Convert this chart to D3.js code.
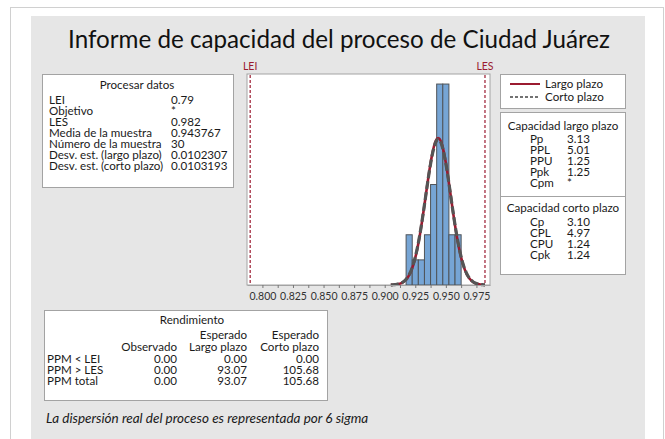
<!DOCTYPE html>
<html>
<head>
<meta charset="utf-8">
<script src="https://cdn.jsdelivr.net/npm/d3@7"></script>
<style>
  body { margin: 0; background: #fff; }
  svg { display: block; font-family: Lato, "Open Sans", sans-serif; }
</style>
</head>
<body>
<div class="chart"></div>
<script>
const width = 665, height = 439;

// histogram data
const binCenters = [0.920, 0.925, 0.930, 0.935, 0.940, 0.945, 0.950, 0.955, 0.960];
const binCounts = [2, 1, 1, 2, 4, 8, 8, 2, 2];
const binWidth = 0.005;
const lei = 0.79, les = 0.982;
const mean = 0.943767, n = 30;
const sdLong = 0.0102307, sdShort = 0.0103193;
const axisTicks = [0.800, 0.8125, 0.825, 0.8375, 0.850, 0.8625, 0.875, 0.8875, 0.900, 0.9125, 0.925, 0.9375, 0.950, 0.9625, 0.975];

// tables
const procLabels = ["LEI", "Objetivo", "LES", "Media de la muestra", "Número de la muestra", "Desv. est. (largo plazo)", "Desv. est. (corto plazo)"];
const procValues = ["0.79", "*", "0.982", "0.943767", "30", "0.0102307", "0.0103193"];
const longLabels = ["Pp", "PPL", "PPU", "Ppk", "Cpm"];
const longValues = ["3.13", "5.01", "1.25", "1.25", "*"];
const shortLabels = ["Cp", "CPL", "CPU", "Cpk"];
const shortValues = ["3.10", "4.97", "1.24", "1.24"];
const rendRows = ["PPM < LEI", "PPM > LES", "PPM total"];
const rendObs = ["0.00", "0.00", "0.00"];
const rendLong = ["0.00", "93.07", "93.07"];
const rendShort = ["0.00", "105.68", "105.68"];

const red = "#9b1b30", boxStroke = "#a3a3a3", txt = "#1a1a1a";
const fs = 11.6;

const svg = d3.select(".chart").append("svg")
  .attr("width", width).attr("height", height);

svg.append("rect").attr("x", 10.5).attr("y", 7.5).attr("width", 653).attr("height", 440)
  .attr("fill", "#fff").attr("stroke", "#d0d0d0");
svg.append("rect").attr("x", 31).attr("y", 16).attr("width", 614).attr("height", 430)
  .attr("fill", "#e6e6e6");

svg.append("text").attr("x", 339).attr("y", 48).attr("text-anchor", "middle")
  .attr("font-size", 24.2).attr("fill", "#111")
  .text("Informe de capacidad del proceso de Ciudad Juárez");

// ---- histogram ----
const x = d3.scaleLinear().domain([0.7874, 0.9861]).range([247, 490]);
const y = d3.scaleLinear().domain([0, 8.4]).range([285, 74]);

svg.append("rect").attr("x", 247).attr("y", 74).attr("width", 243).attr("height", 211)
  .attr("fill", "#fff").attr("stroke", boxStroke);

svg.selectAll(".bar").data(binCenters).enter().append("rect")
  .attr("class", "bar")
  .attr("x", d => x(d - binWidth / 2))
  .attr("width", d => x(d + binWidth / 2) - x(d - binWidth / 2))
  .attr("y", (d, i) => y(binCounts[i]))
  .attr("height", (d, i) => y(0) - y(binCounts[i]))
  .attr("fill", "#76a5d5").attr("stroke", "#4f5459").attr("stroke-width", 1);

const pdf = (v, s) => n * binWidth * Math.exp(-0.5 * ((v - mean) / s) ** 2) / (s * Math.sqrt(2 * Math.PI));
const xs = d3.range(0.905, 0.9821, 0.0005);
const line = s => d3.line().x(d => x(d)).y(d => y(pdf(d, s))).curve(d3.curveBasis)(xs);

svg.append("path").attr("d", line(sdLong)).attr("fill", "none")
  .attr("stroke", red).attr("stroke-width", 2.6);
svg.append("path").attr("d", line(sdShort)).attr("fill", "none")
  .attr("stroke", "#555").attr("stroke-width", 3.2).attr("stroke-dasharray", "8,3");

[[lei, "LEI"], [les, "LES"]].forEach(([v, t]) => {
  svg.append("line").attr("x1", x(v)).attr("x2", x(v)).attr("y1", 75).attr("y2", 284)
    .attr("stroke", red).attr("stroke-width", 1.2).attr("stroke-dasharray", "3,2");
  svg.append("text").attr("x", x(v)).attr("y", 70).attr("text-anchor", "middle")
    .attr("font-size", 10.5).attr("fill", red).text(t);
});

const axis = svg.append("g").attr("transform", "translate(0,285)")
  .call(d3.axisBottom(x).tickValues(axisTicks).tickSize(3).tickSizeOuter(0)
    .tickFormat(d => Math.round(d * 1000) % 25 === 0 ? d3.format(".3f")(d) : ""));
axis.select(".domain").attr("stroke", boxStroke);
axis.selectAll(".tick line").attr("stroke", "#777");
axis.selectAll(".tick text").attr("font-size", 10.5).attr("fill", "#333")
  .attr("font-family", "Lato, sans-serif").attr("dy", "0.9em");

// ---- helper for boxes ----
function box(x0, y0, w, h) {
  svg.append("rect").attr("x", x0 + 0.5).attr("y", y0 + 0.5).attr("width", w).attr("height", h)
    .attr("fill", "#fff").attr("stroke", boxStroke);
}
function txtAt(xp, yp, t, anchor = "start") {
  svg.append("text").attr("x", xp).attr("y", yp).attr("text-anchor", anchor)
    .attr("font-size", fs).attr("fill", txt).text(t);
}

// Procesar datos
box(42, 74, 191, 113);
txtAt(137, 89, "Procesar datos", "middle");
procLabels.forEach((l, i) => {
  txtAt(49, 104 + i * 11, l);
  txtAt(171, 104 + i * 11, procValues[i]);
});

// legend
box(500, 74, 125, 34);
svg.append("line").attr("x1", 510).attr("x2", 540).attr("y1", 84).attr("y2", 84)
  .attr("stroke", red).attr("stroke-width", 2);
svg.append("line").attr("x1", 510).attr("x2", 540).attr("y1", 97).attr("y2", 97)
  .attr("stroke", "#444").attr("stroke-width", 1.4).attr("stroke-dasharray", "3,2");
txtAt(545, 88, "Largo plazo");
txtAt(545, 101, "Corto plazo");

// capacity boxes
box(500, 112, 125, 84);
box(500, 196, 125, 78);
txtAt(563, 130, "Capacidad largo plazo", "middle");
longLabels.forEach((l, i) => {
  txtAt(530, 143 + i * 11, l);
  txtAt(567, 143 + i * 11, longValues[i]);
});
txtAt(563, 212, "Capacidad corto plazo", "middle");
shortLabels.forEach((l, i) => {
  txtAt(530, 226 + i * 11, l);
  txtAt(567, 226 + i * 11, shortValues[i]);
});

// Rendimiento
box(44, 310, 283, 90);
txtAt(192, 324, "Rendimiento", "middle");
txtAt(247, 339, "Esperado", "end");
txtAt(319, 339, "Esperado", "end");
txtAt(177, 351, "Observado", "end");
txtAt(247, 351, "Largo plazo", "end");
txtAt(319, 351, "Corto plazo", "end");
rendRows.forEach((r, i) => {
  const yy = 363 + i * 11;
  txtAt(47, yy, r);
  txtAt(177, yy, rendObs[i], "end");
  txtAt(247, yy, rendLong[i], "end");
  txtAt(319, yy, rendShort[i], "end");
});

svg.append("text").attr("x", 46).attr("y", 423).attr("font-size", 13.5)
  .attr("font-style", "italic").attr("fill", txt)
  .text("La dispersión real del proceso es representada por 6 sigma");
</script>
</body>
</html>
